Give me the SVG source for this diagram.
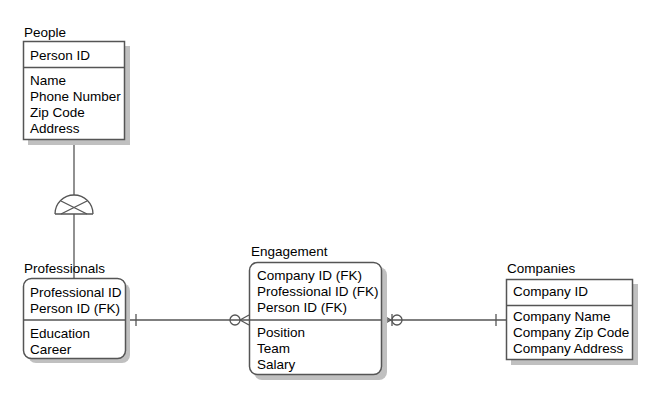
<svg xmlns="http://www.w3.org/2000/svg" width="658" height="407" viewBox="0 0 658 407">
<style>
text{font-family:"Liberation Sans",Arial,sans-serif;font-size:13.5px;fill:#000}
.box{fill:#fff;stroke:#555;stroke-width:1.5}
.sh{fill:#c0c0c0}
.div{stroke:#555;stroke-width:1.5}
.ln{stroke:#555;stroke-width:1.3;fill:none}
</style>
<rect width="658" height="407" fill="#fff"/>
<g id="connectors">
<line class="ln" x1="74" y1="140" x2="74" y2="195"/>
<line class="ln" x1="74" y1="214" x2="74" y2="279"/>
<path class="ln" d="M55,214 A19,19 0 0 1 93,214" stroke="#333"/>
<line class="ln" x1="55" y1="214" x2="93" y2="214" stroke-width="1.8"/>
<line class="ln" x1="61" y1="201" x2="87" y2="214" stroke="#333"/>
<line class="ln" x1="87" y1="201" x2="61" y2="214" stroke="#333"/>
<line class="ln" x1="126" y1="320" x2="249" y2="320"/>
<line class="ln" x1="136" y1="314" x2="136" y2="326"/>
<circle class="ln" cx="235" cy="320" r="5" fill="#fff"/>
<line class="ln" x1="240" y1="320" x2="249" y2="315"/>
<line class="ln" x1="240" y1="320" x2="249" y2="325"/>
<line class="ln" x1="382" y1="320" x2="506" y2="320"/>
<line class="ln" x1="391" y1="320" x2="382" y2="315"/>
<line class="ln" x1="391" y1="320" x2="382" y2="325"/>
<line class="ln" x1="392" y1="314" x2="392" y2="326"/>
<circle class="ln" cx="397" cy="320" r="5" fill="#fff"/>
<line class="ln" x1="496" y1="314" x2="496" y2="326"/>
</g>
<g id="people">
<text x="24" y="37">People</text>
<rect class="sh" x="28" y="46" width="102" height="99"/>
<rect class="box" x="23.5" y="41.5" width="101" height="98"/>
<line class="div" x1="23.5" y1="67.5" x2="124.5" y2="67.5"/>
<text x="30" y="60">Person ID</text>
<text x="30" y="85">Name</text>
<text x="30" y="101">Phone Number</text>
<text x="30" y="117">Zip Code</text>
<text x="30" y="133">Address</text>
</g>
<g id="professionals">
<text x="24" y="273">Professionals</text>
<rect class="sh" x="28" y="283" width="102" height="80" rx="8"/>
<rect class="box" x="23.5" y="278.5" width="102" height="80" rx="8"/>
<line class="div" x1="23.5" y1="320" x2="125.5" y2="320"/>
<text x="30" y="297">Professional ID</text>
<text x="30" y="313">Person ID (FK)</text>
<text x="30" y="338">Education</text>
<text x="30" y="354">Career</text>
</g>
<g id="engagement">
<text x="251" y="256">Engagement</text>
<rect class="sh" x="254" y="267" width="133" height="113" rx="8"/>
<rect class="box" x="249.5" y="262.5" width="132" height="112" rx="8"/>
<line class="div" x1="249.5" y1="320" x2="381.5" y2="320"/>
<text x="257" y="280">Company ID (FK)</text>
<text x="257" y="296">Professional ID (FK)</text>
<text x="257" y="312">Person ID (FK)</text>
<text x="257" y="337">Position</text>
<text x="257" y="353">Team</text>
<text x="257" y="369">Salary</text>
</g>
<g id="companies">
<text x="507" y="273">Companies</text>
<rect class="sh" x="511" y="284" width="127" height="81"/>
<rect class="box" x="506.5" y="279.5" width="126" height="80"/>
<line class="div" x1="506.5" y1="305.5" x2="632.5" y2="305.5"/>
<text x="513" y="296">Company ID</text>
<text x="513" y="321">Company Name</text>
<text x="513" y="337">Company Zip Code</text>
<text x="513" y="353">Company Address</text>
</g>
</svg>
